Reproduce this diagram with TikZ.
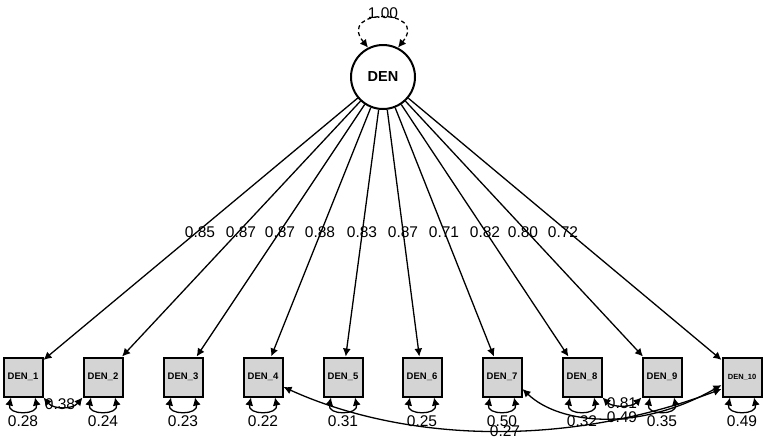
\documentclass[tikz,border=0pt]{standalone}
\usepackage{fontspec}
\setmainfont{Liberation Sans}
\usetikzlibrary{arrows.meta,calc}
\begin{document}
\begin{tikzpicture}[x=1pt,y=-1pt,
  obsbox/.style={draw=black,line width=2pt,fill={rgb,255:red,212;green,212;blue,212},minimum width=39pt,minimum height=39pt,inner sep=0pt,font=\fontsize{9.5}{10}\selectfont\bfseries},
  latent/.style={draw=black,line width=2pt,fill=white,circle,minimum size=64pt,inner sep=0pt,font=\fontsize{14.5}{15}\selectfont\bfseries},
  lbl/.style={inner sep=0pt,font=\fontsize{15.5}{16}\selectfont},
  tip/.style={-{Latex[length=8pt,width=8pt]}},
  twotip/.style={{Latex[length=8pt,width=8pt]}-{Latex[length=8pt,width=8pt]}},
  load/.style={tip,line width=1.3pt},
  cov/.style={twotip,line width=1.3pt}]
\useasboundingbox (0,0) rectangle (767,440);
\node[latent] (DEN) at (383,77) {DEN};
\node[obsbox] (D1) at (23,377) {DEN\_1};
\node[obsbox] (D2) at (103,377) {DEN\_2};
\node[obsbox] (D3) at (183,377) {DEN\_3};
\node[obsbox] (D4) at (263,377) {DEN\_4};
\node[obsbox] (D5) at (343,377) {DEN\_5};
\node[obsbox] (D6) at (422,377) {DEN\_6};
\node[obsbox] (D7) at (502,377) {DEN\_7};
\node[obsbox] (D8) at (582,377) {DEN\_8};
\node[obsbox] (D9) at (662,377) {DEN\_9};
\node[obsbox,font=\fontsize{7.5}{8}\selectfont\bfseries] (D10) at (742,377) {DEN\_10};
% variance loop of latent
\draw[twotip,line width=1.3pt,dash pattern=on 4pt off 3pt] (DEN.117) .. controls (336,8) and (430,8) .. (DEN.63);
\node[lbl] (v0) at (383,13) {1.00};
% loadings
\foreach \d/\v/\lx in {D1/0.85/200,D2/0.87/241,D3/0.87/280,D4/0.88/320,D5/0.83/362,D6/0.87/403,D7/0.71/444,D8/0.82/485,D9/0.80/523,D10/0.72/563}{
  \draw[load] (DEN) -- (\d);
  \node[lbl] (L\d) at (\lx,232) {\v};
}
% residual variances
\foreach \d/\v in {D1/0.28,D2/0.24,D3/0.23,D4/0.22,D5/0.31,D6/0.25,D7/0.50,D8/0.32,D9/0.35,D10/0.49}{
  \draw[cov] ([xshift=-12pt]\d.south) .. controls +(-4,18) and +(4,18) .. ([xshift=12pt]\d.south);
  \node[lbl,anchor=center] (R\d) at ($(\d.south)+(0,24)$) {\v};
}
% covariances
\draw[cov] (D1.south east) .. controls +(10,12) and +(-10,12) .. (D2.south west);
\node[lbl] (c12) at (60,404) {0.38};
\draw[cov] (D8.south east) .. controls +(10,10) and +(-10,10) .. (D9.south west);
\node[lbl] (c89) at (622,403) {0.81};
\draw[cov] ($(D4.east)+(0,10)$) .. controls (400,440) and (560,450) .. ($(D10.west)+(0,12)$);
\node[lbl] (c410) at (505,431) {0.27};
\draw[cov] ($(D7.east)+(0,12)$) .. controls (560,425) and (640,432) .. ($(D10.west)+(0,8)$);
\node[lbl] (c710) at (622,417) {0.49};
\end{tikzpicture}
\end{document}
